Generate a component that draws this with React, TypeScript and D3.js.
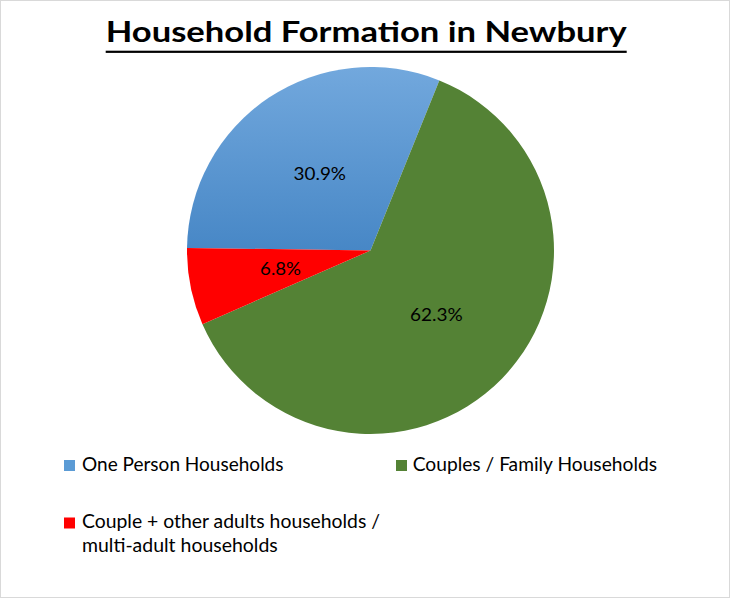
import React from "react";
import * as d3 from "d3";

const categories = [
  "One Person Households",
  "Couples / Family Households",
  "Couple + other adults households / multi-adult households",
];
const values = [30.9, 62.3, 6.8];
const labels = ["30.9%", "62.3%", "6.8%"];
const title = "Household Formation in Newbury";

const W = 732;
const H = 601;
const cx = 370.5;
const cy = 250.5;
const R = 183.5;
const startDeg = 270.8;
const font = "Lato, 'Open Sans', sans-serif";

export default function App() {
  const pie = d3
    .pie<number>()
    .sort(null)
    .startAngle((startDeg * Math.PI) / 180)
    .endAngle(((startDeg + 360) * Math.PI) / 180);
  const arcs = pie(values);
  const arc = d3.arc<d3.PieArcDatum<number>>().innerRadius(0).outerRadius(R);
  const fills = ["url(#blueGrad)", "#548235", "#FF0000"];

  const legend = [
    { i: 0, sx: 64, sy: 460, tx: 82, ty: 471, lines: ["One Person Households"], lens: [201.5] },
    { i: 1, sx: 396, sy: 460, tx: 412.7, ty: 471, lines: ["Couples / Family Households"], lens: [244.3] },
    {
      i: 2,
      sx: 64,
      sy: 517.5,
      tx: 82,
      ty: 527.7,
      lines: ["Couple + other adults households /", "multi-adult households"],
      lens: [298, 195.7],
    },
  ];
  const labelLens = [52.4, 52.7, 41];

  return (
    <svg
      width={W}
      height={H}
      style={{ position: "absolute", left: 0, top: 0, background: "#fff" }}
    >
      <defs>
        <linearGradient id="blueGrad" x1="0" y1="0" x2="0" y2="1">
          <stop offset="0" stopColor="#72A8DD" />
          <stop offset="1" stopColor="#4787C6" />
        </linearGradient>
      </defs>
      <rect x={0} y={0} width={W} height={H} fill="#fff" />
      <rect x={0.5} y={0.5} width={729} height={597} fill="none" stroke="#D9D9D9" strokeWidth={1} />

      <text
        x={105.7}
        y={42}
        fontFamily={font}
        fontWeight="bold"
        fontSize={28.5}
        fill="#000"
        textLength={521}
        lengthAdjust="spacingAndGlyphs"
      >
        {title}
      </text>
      <rect x={105.7} y={50.7} width={521} height={2.2} fill="#000" />

      <g transform={`translate(${cx},${cy})`}>
        {arcs.map((a, i) => (
          <path key={categories[i]} d={arc(a) || ""} fill={fills[i]} />
        ))}
        {arcs.map((a, i) => {
          const [x, y] = arc.centroid(a);
          return (
            <text
              key={labels[i]}
              x={x}
              y={y + 6.3}
              textAnchor="middle"
              fontFamily={font}
              fontSize={18}
              fill="#000"
              textLength={labelLens[i]}
              lengthAdjust="spacingAndGlyphs"
            >
              {labels[i]}
            </text>
          );
        })}
      </g>

      {legend.map((l) => (
        <g key={categories[l.i]}>
          <rect x={l.sx} y={l.sy} width={11} height={11} fill={l.i === 0 ? "#5B9BD5" : fills[l.i]} />
          {l.lines.map((ln, j) => (
            <text
              key={ln}
              x={l.tx}
              y={l.ty + j * 24}
              fontFamily={font}
              fontSize={18.5}
              fill="#000"
              textLength={l.lens[j]}
              lengthAdjust="spacingAndGlyphs"
            >
              {ln}
            </text>
          ))}
        </g>
      ))}
    </svg>
  );
}
